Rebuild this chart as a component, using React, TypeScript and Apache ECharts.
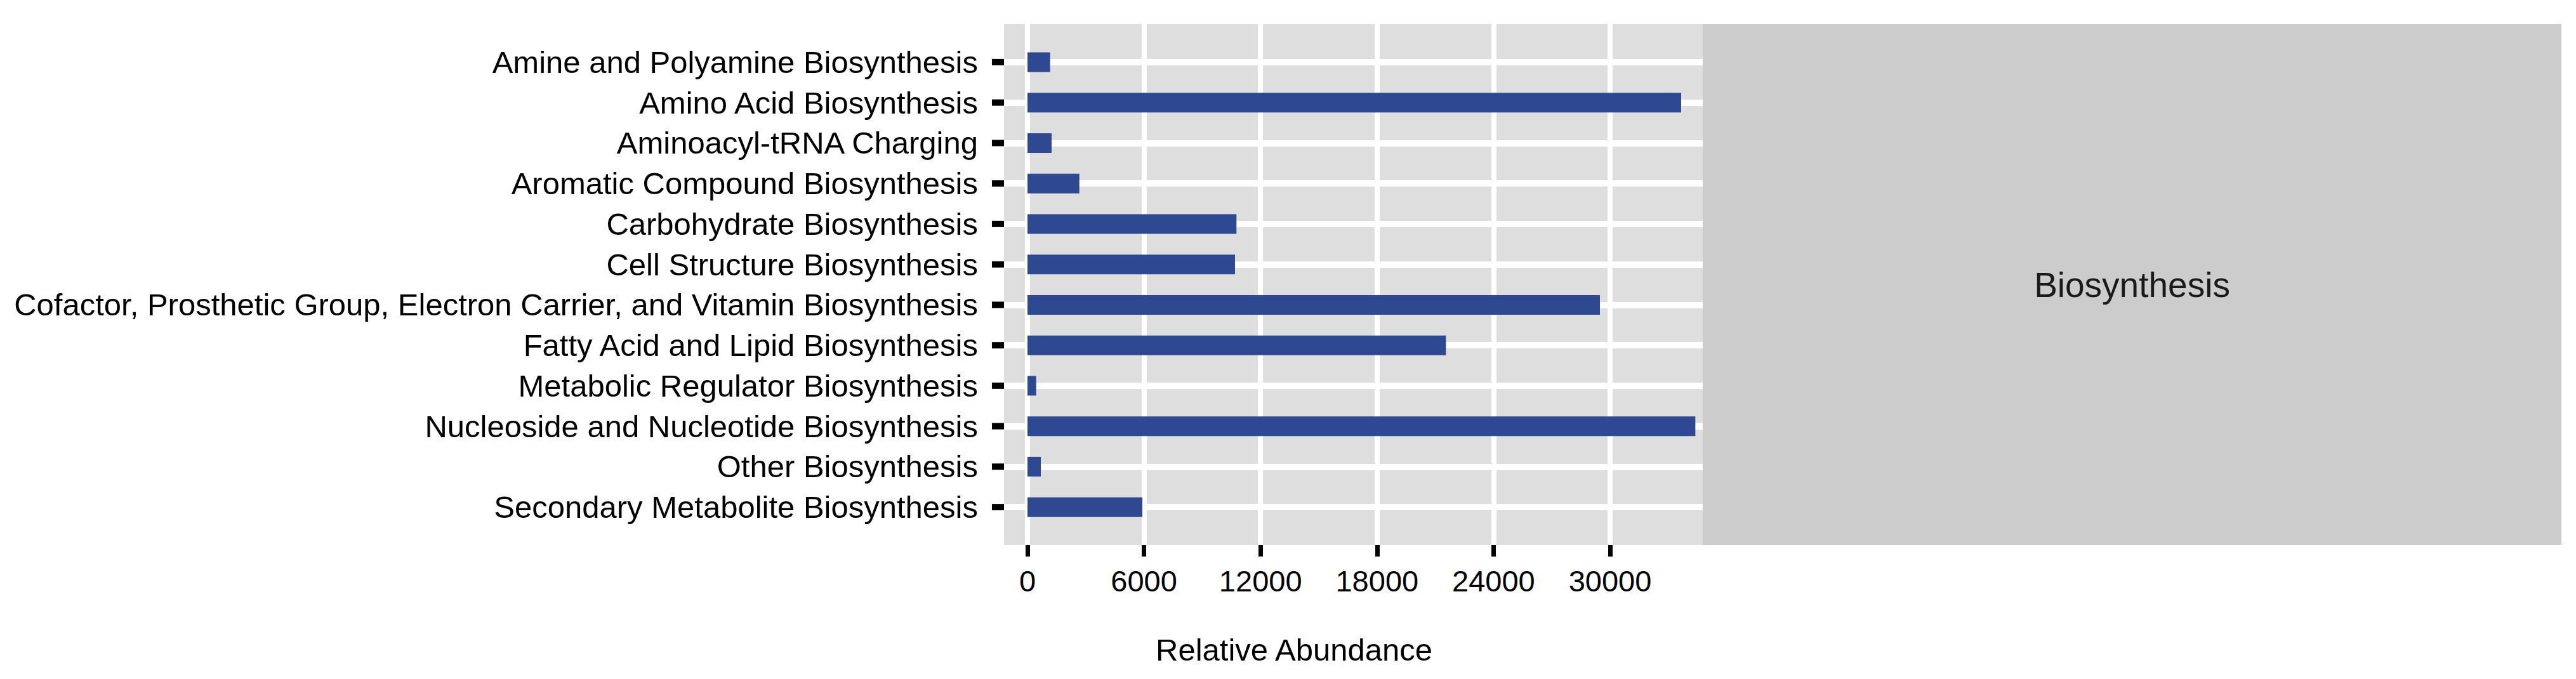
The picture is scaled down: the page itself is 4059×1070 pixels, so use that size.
import React, { useEffect, useRef } from "react";
import * as echarts from "echarts";

const categories = [
  "Amine and Polyamine Biosynthesis",
  "Amino Acid Biosynthesis",
  "Aminoacyl-tRNA Charging",
  "Aromatic Compound Biosynthesis",
  "Carbohydrate Biosynthesis",
  "Cell Structure Biosynthesis",
  "Cofactor, Prosthetic Group, Electron Carrier, and Vitamin Biosynthesis",
  "Fatty Acid and Lipid Biosynthesis",
  "Metabolic Regulator Biosynthesis",
  "Nucleoside and Nucleotide Biosynthesis",
  "Other Biosynthesis",
  "Secondary Metabolite Biosynthesis",
];

const abundance = [1167, 33660, 1242, 2670, 10762, 10686, 29477, 21546, 448, 34390, 686, 5915];

const xTickMin = 0;
const xTickMax = 30000;
const xTickStep = 6000;
const xDomain = [-1209, 34771];

const facetLabel = "Biosynthesis";
const xTitle = "Relative Abundance";

const FONT = "'Liberation Sans', Arial, Helvetica, sans-serif";

export default function App() {
  const ref = useRef<HTMLDivElement>(null);

  useEffect(() => {
    if (!ref.current) return;
    const chart = echarts.init(ref.current, null, { renderer: "svg" });

    const panelLeft = 1582;
    const panelRight = 2683;
    const panelTop = 38;
    const panelBottom = 859;
    const stripRight = 4036;
    const barsTop = 66;
    const barsBottom = 831;
    const panelW = panelRight - panelLeft;
    const span = xDomain[1] - xDomain[0];
    const tickGridLeft = panelLeft + ((xTickMin - xDomain[0]) / span) * panelW;
    const tickGridW = ((xTickMax - xTickMin) / span) * panelW;

    const option: any = {
      animation: false,
      textStyle: { fontFamily: FONT },
      graphic: [
        {
          type: "rect",
          z: -10,
          silent: true,
          shape: { x: panelLeft, y: panelTop, width: panelW, height: panelBottom - panelTop },
          style: { fill: "#DEDEDE" },
        },
        {
          type: "rect",
          z: -10,
          silent: true,
          shape: { x: panelRight, y: panelTop, width: stripRight - panelRight, height: panelBottom - panelTop },
          style: { fill: "#CCCCCC" },
        },
        {
          type: "text",
          x: (panelRight + stripRight) / 2,
          y: (panelTop + panelBottom) / 2,
          style: {
            text: facetLabel,
            fontSize: 55,
            fontFamily: FONT,
            fill: "#1A1A1A",
            align: "center",
            verticalAlign: "middle",
          },
        },
        {
          type: "text",
          x: 2039,
          y: 1024,
          style: {
            text: xTitle,
            fontSize: 49,
            fontFamily: FONT,
            fill: "#000",
            align: "center",
            verticalAlign: "middle",
          },
        },
      ],
      grid: [
        {
          left: tickGridLeft,
          top: panelTop,
          width: tickGridW,
          height: panelBottom - panelTop,
        },
        {
          left: panelLeft,
          top: barsTop,
          width: panelW,
          height: barsBottom - barsTop,
        },
      ],
      xAxis: [
        {
          type: "value",
          gridIndex: 0,
          min: xTickMin,
          max: xTickMax,
          interval: xTickStep,
          axisLine: { show: false },
          axisTick: { show: true, length: 18, lineStyle: { color: "#000", width: 7 } },
          axisLabel: {
            show: true,
            fontSize: 47,
            color: "#000",
            margin: 33,
            fontFamily: FONT,
            formatter: (v: number) => String(v),
          },
          splitLine: { show: true, lineStyle: { color: "#FFFFFF", width: 8 } },
        },
        {
          type: "value",
          gridIndex: 1,
          min: xDomain[0],
          max: xDomain[1],
          show: false,
          splitLine: { show: false },
        },
      ],
      yAxis: [
        {
          type: "value",
          gridIndex: 0,
          show: false,
          splitLine: { show: false },
        },
        {
          type: "category",
          gridIndex: 1,
          data: categories,
          inverse: true,
          axisLine: { show: false },
          axisTick: { show: false },
          axisLabel: { fontSize: 49, color: "#000", margin: 41, fontFamily: FONT },
          splitLine: { show: false },
        },
      ],
      series: [
        {
          type: "bar",
          xAxisIndex: 1,
          yAxisIndex: 1,
          data: abundance,
          barWidth: 31,
          z: 2,
          itemStyle: { color: "#2E4892" },
          markLine: {
            silent: true,
            z: 1,
            symbol: "none",
            label: { show: false },
            lineStyle: { color: "#FFFFFF", width: 10, type: "solid" },
            data: categories.map((c) => ({ yAxis: c })),
          },
        },
        {
          type: "custom",
          xAxisIndex: 1,
          yAxisIndex: 1,
          silent: true,
          clip: false,
          z: 3,
          data: categories.map((c, i) => [xDomain[0], i]),
          renderItem: (params: any, api: any) => {
            const p = api.coord([api.value(0), api.value(1)]);
            return {
              type: "rect",
              shape: { x: p[0] - 19, y: p[1] - 5, width: 19, height: 10 },
              style: { fill: "#000" },
            };
          },
        },
      ],
    };

    chart.setOption(option);
    return () => chart.dispose();
  }, []);

  return (
    <div
      ref={ref}
      style={{ position: "absolute", left: 0, top: 0, width: 4059, height: 1070 }}
    />
  );
}
